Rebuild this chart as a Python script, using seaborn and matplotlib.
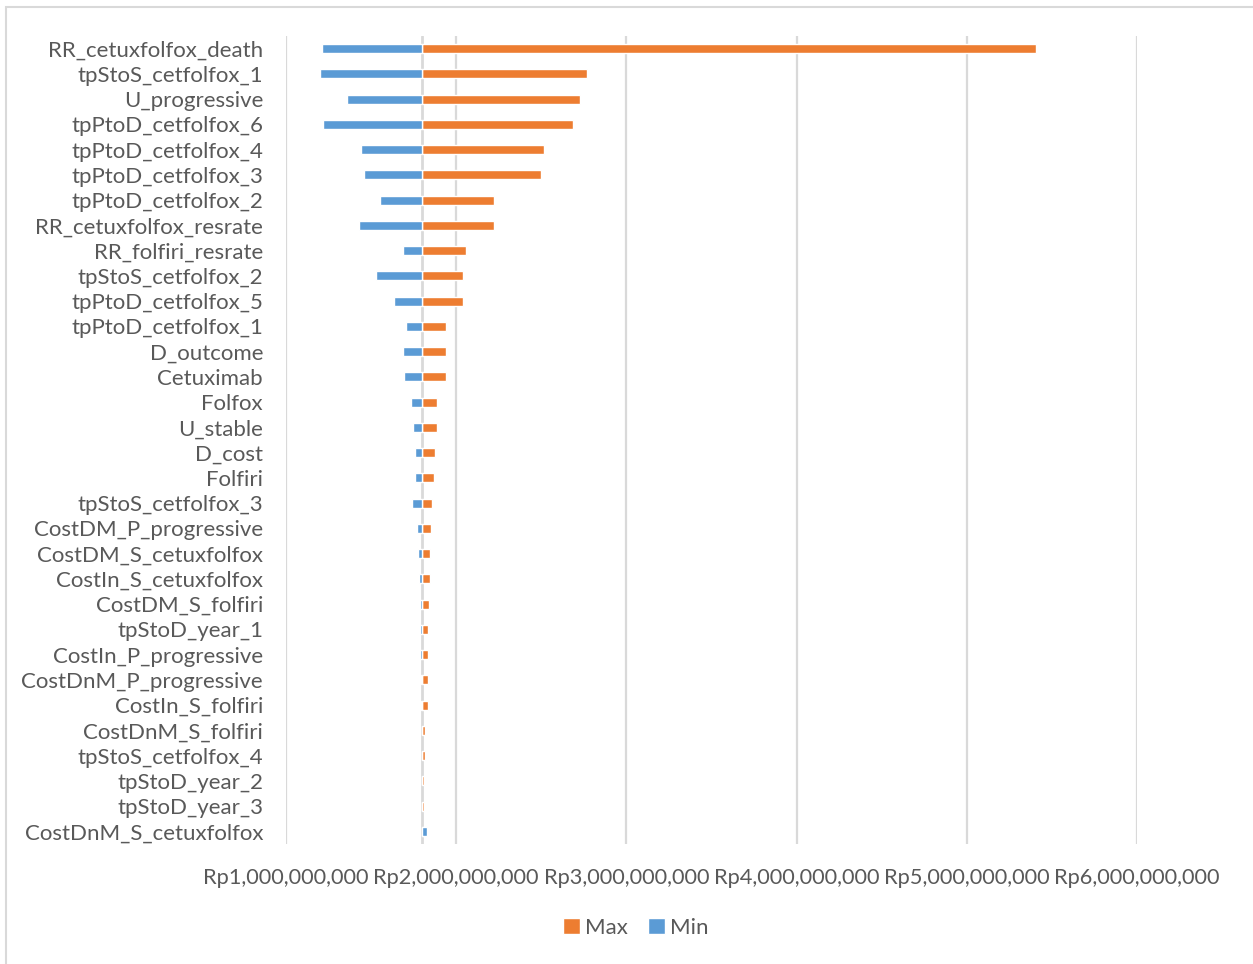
import matplotlib
matplotlib.use("Agg")
import matplotlib.pyplot as plt
import seaborn as sns
import pandas as pd
from matplotlib.ticker import FuncFormatter, FixedLocator
from matplotlib.patches import Rectangle, Patch

# ---------------- data ----------------
base_value = 1.80e9

parameters = [
    "RR_cetuxfolfox_death", "tpStoS_cetfolfox_1", "U_progressive", "tpPtoD_cetfolfox_6",
    "tpPtoD_cetfolfox_4", "tpPtoD_cetfolfox_3", "tpPtoD_cetfolfox_2", "RR_cetuxfolfox_resrate",
    "RR_folfiri_resrate", "tpStoS_cetfolfox_2", "tpPtoD_cetfolfox_5", "tpPtoD_cetfolfox_1",
    "D_outcome", "Cetuximab", "Folfox", "U_stable", "D_cost", "Folfiri",
    "tpStoS_cetfolfox_3", "CostDM_P_progressive", "CostDM_S_cetuxfolfox", "CostIn_S_cetuxfolfox",
    "CostDM_S_folfiri", "tpStoD_year_1", "CostIn_P_progressive", "CostDnM_P_progressive",
    "CostIn_S_folfiri", "CostDnM_S_folfiri", "tpStoS_cetfolfox_4", "tpStoD_year_2",
    "tpStoD_year_3", "CostDnM_S_cetuxfolfox",
]

max_values = [
    5.404e9, 2.769e9, 2.729e9, 2.685e9,
    2.515e9, 2.500e9, 2.220e9, 2.220e9,
    2.055e9, 2.041e9, 2.040e9, 1.942e9,
    1.938e9, 1.938e9, 1.889e9, 1.885e9, 1.877e9, 1.867e9,
    1.857e9, 1.853e9, 1.849e9, 1.844e9,
    1.838e9, 1.832e9, 1.832e9, 1.832e9,
    1.832e9, 1.816e9, 1.815e9, 1.812e9,
    1.812e9, 1.820e9,
]

min_values = [
    1.213e9, 1.197e9, 1.360e9, 1.215e9,
    1.442e9, 1.457e9, 1.553e9, 1.431e9,
    1.685e9, 1.528e9, 1.635e9, 1.704e9,
    1.688e9, 1.691e9, 1.736e9, 1.746e9, 1.756e9, 1.758e9,
    1.742e9, 1.771e9, 1.777e9, 1.781e9,
    1.786e9, 1.790e9, 1.790e9, 1.791e9,
    1.791e9, 1.797e9, 1.797e9, 1.799e9,
    1.799e9, 1.828e9,
]

tick_values = [1e9, 2e9, 3e9, 4e9, 5e9, 6e9]
series_labels = ["Max", "Min"]

# ---------------- style ----------------
ORANGE = "#ED7D31"
BLUE = "#5B9BD5"
GRID = "#D9D9D9"
TEXT = "#595959"

sns.set_theme(style="white")
plt.rcParams["font.family"] = ["Lato", "DejaVu Sans"]

df = pd.DataFrame({
    "parameter": parameters,
    "max_delta": [v - base_value for v in max_values],
    "min_delta": [v - base_value for v in min_values],
})

fig = plt.figure(figsize=(12.53, 9.64), dpi=100)
W, H = 1253, 964
ax = fig.add_axes([286 / W, 1 - 844 / H, (1137 - 286) / W, (844 - 36) / H])

sns.barplot(data=df, y="parameter", x="max_delta", orient="h", color=ORANGE,
            saturation=1, width=0.36, ax=ax, order=parameters, zorder=3)
sns.barplot(data=df, y="parameter", x="min_delta", orient="h", color=BLUE,
            saturation=1, width=0.36, ax=ax, order=parameters, zorder=4)

ax.set_xlim(tick_values[0] - base_value, tick_values[-1] - base_value)
ax.set_ylim(len(parameters) - 0.5, -0.5)
ax.xaxis.set_major_locator(FixedLocator([t - base_value for t in tick_values]))
ax.xaxis.set_major_formatter(FuncFormatter(lambda x, p: "Rp{:,.0f}".format(x + base_value)))
ax.grid(axis="x", color=GRID, linewidth=1.6, zorder=0)
ax.set_axisbelow(True)
ax.axvline(0, color=GRID, linewidth=2.0, zorder=2)

for s in ax.spines.values():
    s.set_visible(False)
ax.set_xlabel("")
ax.set_ylabel("")
ax.tick_params(axis="x", length=0, pad=17, labelsize=15.7, labelcolor=TEXT)
ax.tick_params(axis="y", length=0, pad=16.5, labelsize=16, labelcolor=TEXT)

handles = [Patch(facecolor=ORANGE, label=series_labels[0]),
           Patch(facecolor=BLUE, label=series_labels[1])]
fig.legend(handles=handles, loc="center", bbox_to_anchor=(636 / W, 1 - 928 / H),
           ncol=2, frameon=False, fontsize=16, labelcolor=TEXT,
           handlelength=0.75, handleheight=0.75, handletextpad=0.25, columnspacing=0.9)

fig.patches.append(Rectangle((6 / W, -0.1), 1.2, 1 - 7 / H + 0.1, transform=fig.transFigure,
                             fill=False, edgecolor=GRID, linewidth=1.5))

fig.savefig("out.png", dpi=100, facecolor="white")
